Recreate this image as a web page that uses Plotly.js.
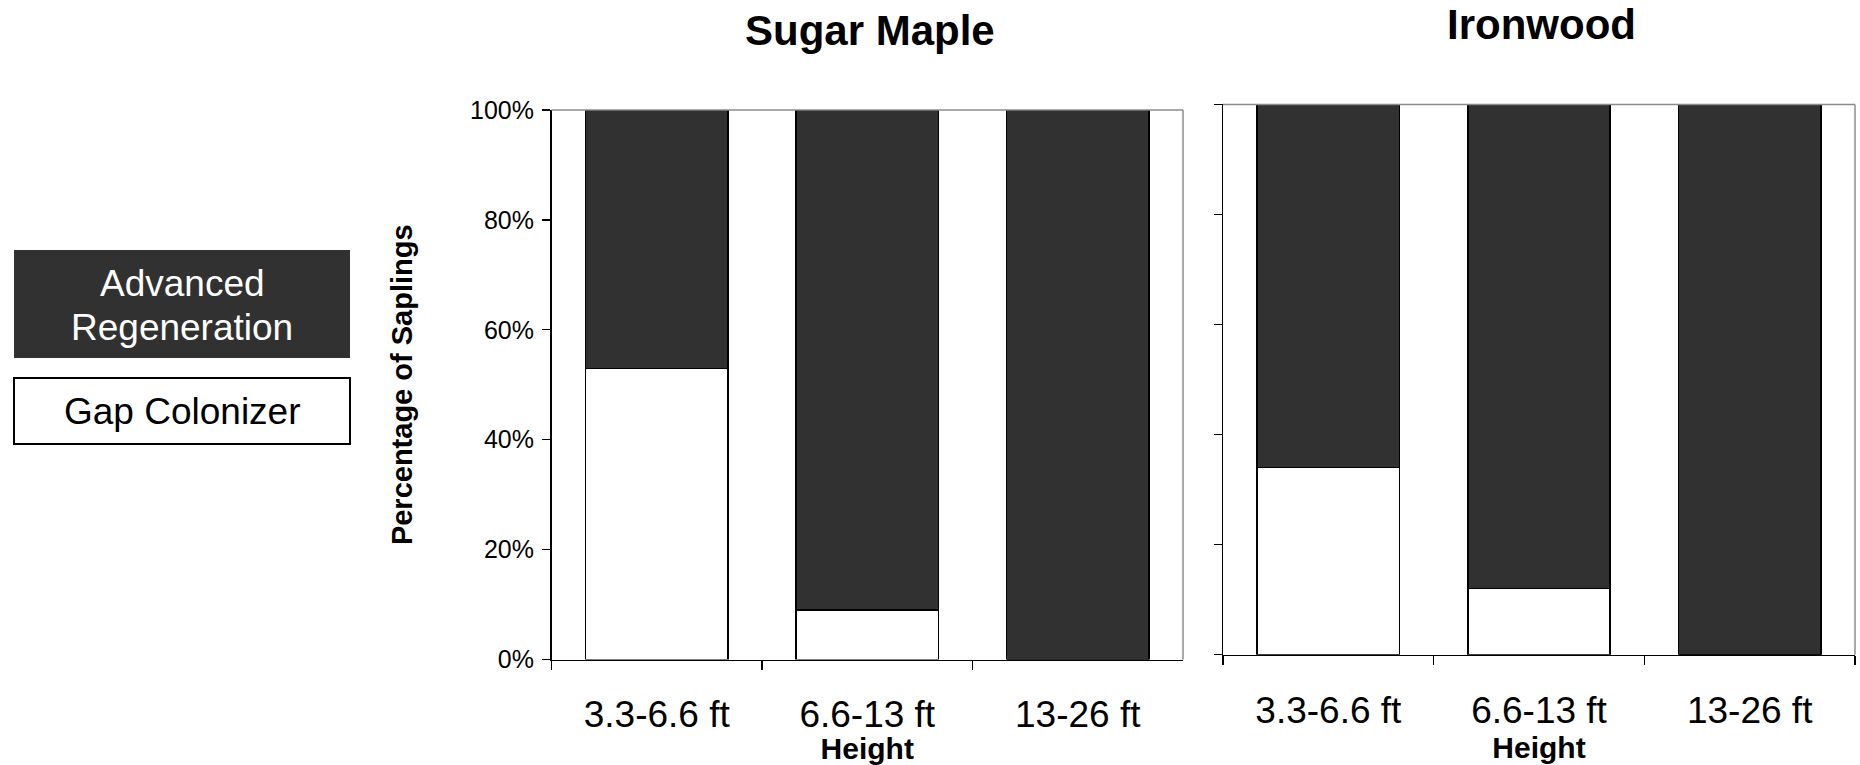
<!DOCTYPE html>
<html>
<head>
<meta charset="utf-8">
<script src="https://cdn.plot.ly/plotly-3.0.1.min.js"></script>
<style>
  html, body { margin: 0; padding: 0; background: #ffffff; }
  #chart { width: 1860px; height: 765px; }
</style>
</head>
<body>
<div id="chart"></div>
<script>
// ---- data ----
const categories = ['3.3-6.6 ft', '6.6-13 ft', '13-26 ft'];
const sugarMapleGapColonizer = [53, 9, 0];
const sugarMapleAdvancedRegen = [47, 91, 100];
const ironwoodGapColonizer = [34, 12, 0];
const ironwoodAdvancedRegen = [66, 88, 100];
const panelTitles = ['Sugar Maple', 'Ironwood'];
const seriesNames = ['Gap Colonizer', 'Advanced Regeneration'];
const yTickValues = [0, 20, 40, 60, 80, 100];
const yTickLabels = ['0%', '20%', '40%', '60%', '80%', '100%'];

// ---- styling ----
const W = 1860, H = 765;
const FONT = 'Liberation Sans, Arial, sans-serif';
const DARK = '#313131';
const px = v => v / W;
const py = v => 1 - v / H;

const barLine = { color: '#000000', width: 1.5 };

const traces = [
  { type: 'bar', name: seriesNames[0], x: categories, y: sugarMapleGapColonizer,
    xaxis: 'x', yaxis: 'y', marker: { color: '#ffffff', line: barLine }, showlegend: false },
  { type: 'bar', name: seriesNames[1], x: categories, y: sugarMapleAdvancedRegen,
    xaxis: 'x', yaxis: 'y', marker: { color: DARK, line: barLine }, showlegend: false },
  { type: 'bar', name: seriesNames[0], x: categories, y: ironwoodGapColonizer,
    xaxis: 'x2', yaxis: 'y2', marker: { color: '#ffffff', line: barLine }, showlegend: false },
  { type: 'bar', name: seriesNames[1], x: categories, y: ironwoodAdvancedRegen,
    xaxis: 'x2', yaxis: 'y2', marker: { color: DARK, line: barLine }, showlegend: false }
];

function xAxis(domain, anchor) {
  return {
    domain: domain, anchor: anchor, type: 'category',
    tickson: 'boundaries', ticks: 'outside', ticklen: 9, tickwidth: 1.2, tickcolor: '#000',
    showline: true, linecolor: '#000', linewidth: 1.5,
    showgrid: false, zeroline: false,
    tickfont: { family: FONT, size: 37, color: '#000' },
    ticklabelstandoff: 22,
    title: { text: 'Height', font: { family: FONT, size: 30, color: '#000', weight: 'bold' }, standoff: 0 },
    fixedrange: true
  };
}
function yAxis(domain, anchor, showLabels) {
  const a = {
    domain: domain, anchor: anchor, range: [0, 100],
    tickmode: 'array', tickvals: yTickValues, ticktext: yTickLabels,
    ticks: 'outside', ticklen: 8, tickwidth: 1.2, tickcolor: '#000',
    showline: true, linecolor: '#000', linewidth: 1.5,
    showgrid: false, zeroline: false,
    showticklabels: showLabels,
    tickfont: { family: FONT, size: 25, color: '#000' },
    ticklabelstandoff: 3,
    fixedrange: true
  };
  if (showLabels) {
    a.title = { text: 'Percentage of Saplings', font: { family: FONT, size: 29, color: '#000', weight: 'bold' }, standoff: 49 };
  }
  return a;
}

const xDom1 = [px(551.5), px(1183)];
const xDom2 = [px(1223), px(1855)];
const yDom1 = [py(659.5), py(110)];
const yDom2 = [py(654.7), py(104.4)];

const shapes = [];
// grey top / right plot-area border for both panels
[['x', 'y'], ['x2', 'y2']].forEach(([xa, ya]) => {
  shapes.push({ type: 'line', xref: xa + ' domain', yref: ya + ' domain', x0: 0, x1: 1, y0: 1, y1: 1,
    line: { color: '#8c8c8c', width: 1.5 } });
  shapes.push({ type: 'line', xref: xa + ' domain', yref: ya + ' domain', x0: 1, x1: 1, y0: 0, y1: 1,
    line: { color: '#8c8c8c', width: 1.5 } });
});
// custom legend boxes
shapes.push({ type: 'rect', xref: 'paper', yref: 'paper', x0: px(14), x1: px(350), y0: py(358), y1: py(250),
  fillcolor: DARK, line: { color: DARK, width: 0 } });
shapes.push({ type: 'rect', xref: 'paper', yref: 'paper', x0: px(14), x1: px(350), y0: py(444), y1: py(378),
  fillcolor: '#ffffff', line: { color: '#000000', width: 2 } });

const annotations = [
  { text: panelTitles[0], xref: 'paper', yref: 'paper', x: px(870), y: py(31), xanchor: 'center', yanchor: 'middle',
    showarrow: false, font: { family: FONT, size: 42, color: '#000', weight: 'bold' } },
  { text: panelTitles[1], xref: 'paper', yref: 'paper', x: px(1541), y: py(25), xanchor: 'center', yanchor: 'middle',
    showarrow: false, font: { family: FONT, size: 42, color: '#000', weight: 'bold' } },
  { text: 'Advanced', xref: 'paper', yref: 'paper', x: px(182), y: py(283), xanchor: 'center', yanchor: 'middle',
    showarrow: false, font: { family: FONT, size: 37, color: '#ffffff' } },
  { text: 'Regeneration', xref: 'paper', yref: 'paper', x: px(182), y: py(327), xanchor: 'center', yanchor: 'middle',
    showarrow: false, font: { family: FONT, size: 37, color: '#ffffff' } },
  { text: 'Gap Colonizer', xref: 'paper', yref: 'paper', x: px(182), y: py(411), xanchor: 'center', yanchor: 'middle',
    showarrow: false, font: { family: FONT, size: 37, color: '#000' } }
];

const layout = {
  width: W, height: H,
  margin: { l: 0, r: 0, t: 0, b: 0 },
  paper_bgcolor: '#ffffff', plot_bgcolor: '#ffffff',
  barmode: 'stack', bargap: 0.325,
  showlegend: false,
  font: { family: FONT, color: '#000' },
  xaxis: xAxis(xDom1, 'y'),
  yaxis: yAxis(yDom1, 'x', true),
  xaxis2: xAxis(xDom2, 'y2'),
  yaxis2: yAxis(yDom2, 'x2', false),
  shapes: shapes,
  annotations: annotations
};

Plotly.newPlot('chart', traces, layout, { displayModeBar: false, staticPlot: true });
</script>
</body>
</html>
